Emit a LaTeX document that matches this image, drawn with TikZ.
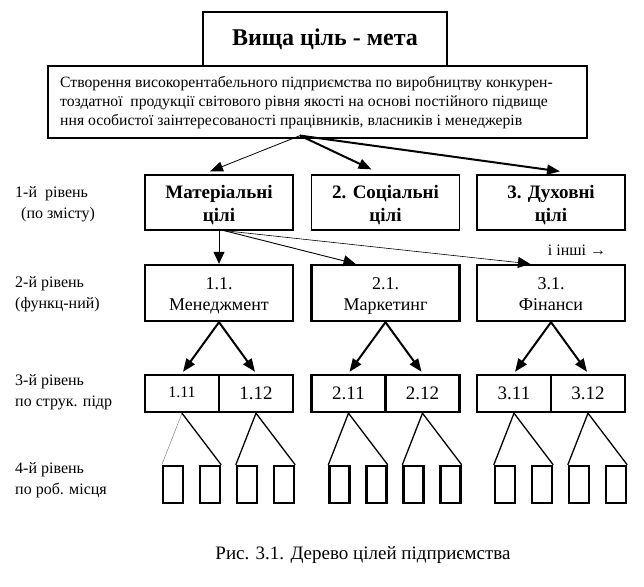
\documentclass[tikz,border=0pt]{standalone}
\usepackage{fontspec}
\setmainfont{Liberation Serif}
\usetikzlibrary{arrows.meta,calc}
\begin{document}
\begin{tikzpicture}[x=1pt,y=-1pt,
  box/.style={draw,line width=1.2pt,inner sep=0pt,align=center},
  tbox/.style={draw,line width=2.4pt,inner sep=0pt,align=center},
  lvl/.style={box,minimum width=148pt,minimum height=55pt},
  lvltxt/.style={inner sep=0pt,align=center,font=\bfseries\fontsize{19}{23}\selectfont},
  fun/.style={tbox,minimum width=148pt,minimum height=56pt},
  funtxt/.style={inner sep=0pt,align=center,font=\fontsize{18}{21}\selectfont},
  cell/.style={tbox,minimum width=74pt,minimum height=37pt,font=\fontsize{19}{22}\selectfont},
  leaf/.style={tbox,minimum width=20pt,minimum height=37pt},
  lbl/.style={anchor=west,align=left,inner sep=0pt,font=\fontsize{16}{21}\selectfont},
  arrA/.style={-{Triangle[length=13pt,width=10pt]}},
  arrB/.style={-{Triangle[length=12pt,width=11pt]}},
  lf/.style={line width=1.3pt}
]
\useasboundingbox (0,0) rectangle (644,586);

% top goal
\node[box,minimum width=244pt,minimum height=54pt,font=\bfseries\fontsize{24}{28}\selectfont] (top) at (325,39) {Вища ціль - мета};
\node[box,minimum width=539pt,minimum height=72pt] (goal) at (317.5,102) {};
\node[anchor=west,align=left,inner sep=0pt,font=\fontsize{15.7}{19}\selectfont] (goaltxt) at (60,103)
  {Створення високорентабельного підприємства по виробництву конкурен-\\
   тоздатної\ \ продукції світового рівня якості на основі постійного підвище\\
   ння особистої заінтересованості працівників, власників і менеджерів};
\coordinate (o) at ($(goal.south)+(-17.5,-3)$);

% level 1
\node[lvl] (m1) at (219,202.5) {};
\node[lvl] (m2) at (385.5,202.5) {};
\node[lvl] (m3) at (551,202.5) {};
\node[lvltxt] (m1t) at (219,205.5) {\strut Матеріальні\\\strut цілі};
\node[lvltxt] (m2t) at (385.5,205.5) {\strut 2. Соціальні\\\strut цілі};
\node[lvltxt] (m3t) at (551,205.5) {\strut 3. Духовні\\\strut цілі};

\draw[arrA,line width=0.8pt] (o) -- ([xshift=-9pt,yshift=3pt]m1.north);
\draw[arrA,line width=2pt] (o) -- ([xshift=-14pt,yshift=5pt]m2.north);
\draw[arrA,line width=2pt] (o) -- ([xshift=9pt,yshift=3pt]m3.north);

\node[font=\fontsize{16}{18}\selectfont,inner sep=0pt] (others) at (577,250) {і інші →};

% level 2
\node[fun] (f1) at (219,293) {};
\node[fun] (f2) at (385.5,293) {};
\node[fun] (f3) at (551,293) {};
\node[funtxt] (f1t) at (219,296) {\strut 1.1.\\\strut Менеджмент};
\node[funtxt] (f2t) at (385.5,296) {\strut 2.1.\\\strut Маркетинг};
\node[funtxt] (f3t) at (551,296) {\strut 3.1.\\\strut Фінанси};

\draw[arrB,line width=0.8pt] (m1.south) -- (f1.north);
\draw[arrB,line width=0.9pt] ([xshift=5pt]m1.south) -- ([xshift=-30pt]f2.north);
\draw[arrB,line width=0.6pt] ([xshift=5pt]m1.south) -- ([xshift=-21pt]f3.north);

% level 3
\node[cell,font=\fontsize{16}{18}\selectfont] (c11) at (182,393.5) {\raisebox{2pt}{1.11}};
\node[cell] (c12) at (256,393.5) {\raisebox{-2pt}{1.12}};
\node[cell] (c21) at (348.5,393.5) {2.11};
\node[cell] (c22) at (422.5,393.5) {2.12};
\node[cell] (c31) at (514,393.5) {3.11};
\node[cell] (c32) at (588,393.5) {3.12};

\foreach \i in {1,2,3}{
  \draw[arrA,line width=2pt] (f\i.south) -- ([xshift=1pt,yshift=2pt]c\i1.north);
  \draw[arrA,line width=2pt] (f\i.south) -- ([xshift=-1pt,yshift=2pt]c\i2.north);
}

% level 4
\foreach \i/\c in {1/219,2/385.5,3/551}{
  \foreach \j/\dx in {1/-46,2/-9,3/28,4/65}{
    \node[leaf] (leaf\i\j) at (\c+\dx,484.5) {};
  }
}
\draw[line width=0.5pt,gray] (c11.south) -- (leaf11.north west);
\draw[lf] (c11.south) -- (leaf12.north east);
\draw[lf] (c12.south) -- (leaf13.north west);
\draw[lf] (c12.south) -- (leaf14.north east);
\foreach \i in {2,3}{
  \draw[lf] (c\i1.south) -- (leaf\i1.north west);
  \draw[lf] (c\i1.south) -- (leaf\i2.north east);
  \draw[lf] (c\i2.south) -- (leaf\i3.north west);
  \draw[lf] (c\i2.south) -- (leaf\i4.north east);
}

% level labels
\node[lbl] (l1) at (15,204) {1-й\ \ рівень\\\hspace*{6pt}(по змісту)};
\node[lbl] (l2) at (15,294) {2-й рівень\\(функц-ний)};
\node[lbl] (l3) at (15,392) {3-й рівень\\по струк. підр};
\node[lbl] (l4) at (15,480) {4-й рівень\\по роб. місця};

% caption
\node[font=\fontsize{19}{22}\selectfont,inner sep=0pt] (cap) at (363,555) {Рис. 3.1. Дерево цілей підприємства};
\end{tikzpicture}
\end{document}
